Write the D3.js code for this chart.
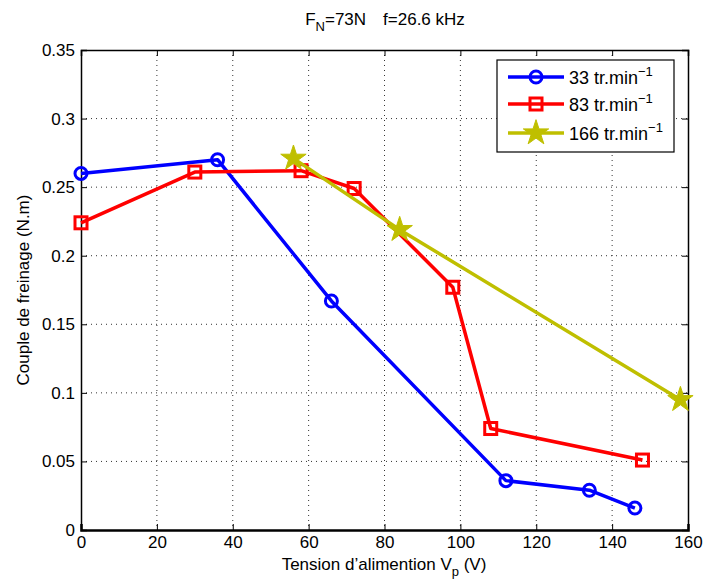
<!DOCTYPE html>
<html><head><meta charset="utf-8">
<script src="https://cdn.jsdelivr.net/npm/d3@7"></script>
<style>body{margin:0;background:#fff;} text{font-family:"Liberation Sans",Arial,sans-serif;}</style>
</head><body>
<svg id="c" width="705" height="583"></svg>
<script>
const xTicks = [0,20,40,60,80,100,120,140,160];
const yTicks = [0,0.05,0.1,0.15,0.2,0.25,0.3,0.35];
const yTickLabels = ["0","0.05","0.1","0.15","0.2","0.25","0.3","0.35"];
const s33x = [0,36,66,112,134,146];
const s33y = [0.260,0.270,0.167,0.036,0.029,0.016];
const s83x = [0,30,58,72,98,108,148];
const s83y = [0.224,0.261,0.262,0.249,0.177,0.074,0.051];
const s166x = [56,84,158];
const s166y = [0.271,0.219,0.095];
const seriesNames = ["33 tr.min","83 tr.min","166 tr.min"];

const svg = d3.select("#c");
const L=81,R=688,T=50,B=530;
const x = d3.scaleLinear().domain([0,160]).range([L,R]);
const y = d3.scaleLinear().domain([0,0.35]).range([B,T]);

// grid
const g = svg.append("g");
xTicks.slice(1,-1).forEach(t=>g.append("line").attr("x1",x(t)).attr("x2",x(t)).attr("y1",T).attr("y2",B)
  .attr("stroke","#333").attr("stroke-width",1).attr("stroke-dasharray","1,4"));
yTicks.slice(1,-1).forEach(t=>g.append("line").attr("x1",L).attr("x2",R).attr("y1",y(t)).attr("y2",y(t))
  .attr("stroke","#333").attr("stroke-width",1).attr("stroke-dasharray","1,4"));

// axes
const fs=17;
const xa = svg.append("g").attr("transform",`translate(0,${B})`)
  .call(d3.axisBottom(x).tickValues(xTicks).tickSize(-6).tickPadding(6));
const xa2 = svg.append("g").attr("transform",`translate(0,${T})`)
  .call(d3.axisTop(x).tickValues(xTicks).tickSize(-6).tickFormat(""));
const ya = svg.append("g").attr("transform",`translate(${L},0)`)
  .call(d3.axisLeft(y).tickValues(yTicks).tickSize(-6).tickPadding(6).tickFormat((d,i)=>yTickLabels[i]));
const ya2 = svg.append("g").attr("transform",`translate(${R},0)`)
  .call(d3.axisRight(y).tickValues(yTicks).tickSize(-6).tickFormat(""));
[xa,xa2,ya,ya2].forEach(a=>{a.selectAll("path").attr("stroke","#000").attr("stroke-width",1.5);
  a.selectAll("line").attr("stroke","#000");
  a.selectAll("text").attr("font-size",fs).attr("fill","#000").attr("font-family","Liberation Sans, Arial, sans-serif");});
xa.select(".domain").attr("stroke-width",2.5);

// lines
const line = d3.line().x(d=>x(d[0])).y(d=>y(d[1]));
const data = [
  {pts:s33x.map((v,i)=>[v,s33y[i]]), color:"#0000ff", m:"circle"},
  {pts:s83x.map((v,i)=>[v,s83y[i]]), color:"#ff0000", m:"square"},
  {pts:s166x.map((v,i)=>[v,s166y[i]]), color:"#bfbf00", m:"star"}
];
function marker(sel,m,color,cx,cy){
  if(m==="circle") sel.append("circle").attr("cx",cx).attr("cy",cy).attr("r",6).attr("fill","none").attr("stroke",color).attr("stroke-width",3);
  else if(m==="square") sel.append("rect").attr("x",cx-6).attr("y",cy-6).attr("width",12).attr("height",12).attr("fill","none").attr("stroke",color).attr("stroke-width",3);
  else sel.append("path").attr("d",d3.symbol().type(d3.symbolStar).size(200)()).attr("transform",`translate(${cx},${cy})`).attr("fill",color).attr("stroke",color).attr("stroke-width",1);
}
data.forEach(s=>{
  svg.append("path").datum(s.pts).attr("d",line).attr("fill","none").attr("stroke",s.color).attr("stroke-width",3.5).attr("stroke-linejoin","round");
  s.pts.forEach(p=>marker(svg,s.m,s.color,x(p[0]),y(p[1])));
});

// legend
const lg = svg.append("g");
lg.append("rect").attr("x",497).attr("y",60).attr("width",177).attr("height",92).attr("fill","#fff").attr("stroke","#000").attr("stroke-width",1.2);
const rows=[77,104,133];
data.forEach((s,i)=>{
  lg.append("line").attr("x1",508).attr("x2",564).attr("y1",rows[i]).attr("y2",rows[i]).attr("stroke",s.color).attr("stroke-width",3.5);
  marker(lg,s.m,s.color,536,rows[i]);
  const t=lg.append("text").attr("x",569).attr("y",rows[i]+7).attr("font-size",18);
  t.append("tspan").text(seriesNames[i]);
  t.append("tspan").attr("dy",-8).attr("font-size",13).text("\u22121");
});

// title
const tt = svg.append("text").attr("x",385).attr("y",25).attr("text-anchor","middle").attr("font-size",17);
tt.append("tspan").text("F");
tt.append("tspan").attr("dy",6).attr("font-size",13).text("N");
tt.append("tspan").attr("dy",-6).text("=73N\u2003f=26.6 kHz");

// x label
const xl = svg.append("text").attr("x",384).attr("y",570).attr("text-anchor","middle").attr("font-size",17);
xl.append("tspan").text("Tension d\u2019alimention V");
xl.append("tspan").attr("dy",6).attr("font-size",13).text("p");
xl.append("tspan").attr("dy",-6).text(" (V)");

// y label
svg.append("text").attr("transform",`translate(29,${(T+B)/2}) rotate(-90)`).attr("text-anchor","middle").attr("font-size",17).text("Couple de freinage (N.m)");
</script>
</body></html>
